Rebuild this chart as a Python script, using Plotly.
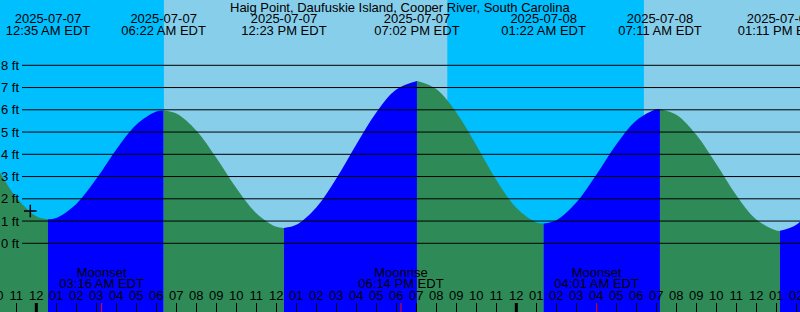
import plotly.graph_objects as go

# ---------------- data ----------------
TITLE = "Haig Point, Daufuskie Island, Cooper River, South Carolina"

# water level (hours after 2025-07-07 00:00 EDT, feet)
curve_hours = [-3, -2, -1, 0, 1, 2, 3, 4, 5, 6, 7, 8, 9, 10, 11, 12, 13, 14, 15, 16,
               17, 18, 19, 20, 21, 22, 23, 24, 25, 26, 27, 28, 29, 30, 31, 32, 33,
               34, 35, 36, 37, 38, 39]
curve_heights = [5.03, 3.46, 2.06, 1.22, 1.14, 1.77, 2.90, 4.22, 5.33, 5.92, 5.83, 5.07,
                 3.84, 2.48, 1.35, 0.74, 0.83, 1.61, 2.91, 4.44, 5.88, 6.91, 7.29, 6.93,
                 5.88, 4.41, 2.85, 1.60, 0.94, 1.04, 1.83, 3.08, 4.44, 5.52, 6.02, 5.78,
                 4.88, 3.56, 2.16, 1.07, 0.57, 0.83, 1.81]

# high / low tides
ext_hours = [0.583, 6.367, 12.383, 19.033, 25.367, 31.183, 37.183]
ext_heights = [1.08, 5.97, 0.69, 7.29, 0.89, 6.03, 0.56]
ext_dates = ["2025-07-07", "2025-07-07", "2025-07-07", "2025-07-07",
             "2025-07-08", "2025-07-08", "2025-07-08"]
ext_times = ["12:35 AM EDT", "06:22 AM EDT", "12:23 PM EDT", "07:02 PM EDT",
             "01:22 AM EDT", "07:11 AM EDT", "01:11 PM EDT"]

# daylight periods
day_start = [6.38, 30.38]
day_end = [20.55, 39.0]

# moon events
moon_hours = [3.267, 18.233, 28.017]
moon_names = ["Moonset", "Moonrise", "Moonset"]
moon_times = ["03:16 AM EDT", "06:14 PM EDT", "04:01 AM EDT"]

# hour ticks
hour_ticks = list(range(-2, 39))
hour_labels = ["10", "11", "12", "01", "02", "03", "04", "05", "06", "07", "08", "09",
               "10", "11", "12", "01", "02", "03", "04", "05", "06", "07", "08", "09",
               "10", "11", "12", "01", "02", "03", "04", "05", "06", "07", "08", "09",
               "10", "11", "12", "01", "02"]
midnights = [0, 24]

# height axis
ft_ticks = [0, 1, 2, 3, 4, 5, 6, 7, 8]
ft_labels = ["0 ft", "1 ft", "2 ft", "3 ft", "4 ft", "5 ft", "6 ft", "7 ft", "8 ft"]

# current position marker
now_hour = -0.30
now_height = 1.45

# ---------------- style ----------------
FONT = "Liberation Sans"
FS = 13
NIGHT = "#00BFFF"
DAY = "#87CEEB"
RISING = "#0000FF"
FALLING = "#2E8B57"
X_RANGE = [-1.815, 38.185]
Y_RANGE = [-3.088, 10.935]
BOTTOM = -5.0

# label rows (in feet units of the height axis)
Y_DATE = 10.036
Y_TIME = 9.52
Y_MOON_NAME = -1.37
Y_MOON_TIME = -1.88
Y_HOUR = -2.41

fig = go.Figure()

# tide fill segments between extremes
bounds = [curve_hours[0]] + ext_hours + [curve_hours[-1]]
bvals = [curve_heights[0]] + ext_heights + [curve_heights[-1]]
for i in range(len(bounds) - 1):
    a, b = bounds[i], bounds[i + 1]
    xs = [a]
    ys = [bvals[i]]
    for h, v in zip(curve_hours, curve_heights):
        if a + 0.1 < h < b - 0.1:
            xs.append(h)
            ys.append(v)
    xs.append(b)
    ys.append(bvals[i + 1])
    color = RISING if bvals[i + 1] > bvals[i] else FALLING
    fig.add_trace(go.Scatter(x=[a, b], y=[BOTTOM, BOTTOM], mode="lines",
                             line=dict(width=0), hoverinfo="skip", showlegend=False))
    fig.add_trace(go.Scatter(x=xs, y=ys, mode="lines", fill="tonexty",
                             fillcolor=color, line=dict(width=0, shape="spline", smoothing=1),
                             hoverinfo="skip", showlegend=False))

# now marker
fig.add_trace(go.Scatter(x=[now_hour], y=[now_height], mode="markers",
                         marker=dict(symbol="cross-thin", size=9,
                                     line=dict(width=1.5, color="black")),
                         showlegend=False, hoverinfo="skip"))

# extreme labels
fig.add_trace(go.Scatter(x=ext_hours, y=[Y_DATE] * len(ext_hours), mode="text",
                         text=ext_dates, textposition="middle center",
                         textfont=dict(family=FONT, size=FS, color="black"),
                         showlegend=False, hoverinfo="skip"))
fig.add_trace(go.Scatter(x=ext_hours, y=[Y_TIME] * len(ext_hours), mode="text",
                         text=ext_times, textposition="middle center",
                         textfont=dict(family=FONT, size=FS, color="black"),
                         showlegend=False, hoverinfo="skip"))

# moon labels
fig.add_trace(go.Scatter(x=moon_hours, y=[Y_MOON_NAME] * len(moon_hours), mode="text",
                         text=moon_names, textposition="middle center",
                         textfont=dict(family=FONT, size=FS, color="black"),
                         showlegend=False, hoverinfo="skip"))
fig.add_trace(go.Scatter(x=moon_hours, y=[Y_MOON_TIME] * len(moon_hours), mode="text",
                         text=moon_times, textposition="middle center",
                         textfont=dict(family=FONT, size=FS, color="black"),
                         showlegend=False, hoverinfo="skip"))

# hour labels
fig.add_trace(go.Scatter(x=hour_ticks, y=[Y_HOUR] * len(hour_ticks), mode="text",
                         text=hour_labels, textposition="middle center",
                         textfont=dict(family=FONT, size=FS, color="black"),
                         showlegend=False, hoverinfo="skip"))

shapes = []
for s, e in zip(day_start, day_end):
    shapes.append(dict(type="rect", xref="x", yref="paper", x0=s, x1=e, y0=0, y1=1,
                       fillcolor=DAY, line=dict(width=0), layer="below"))
for v in ft_ticks:
    shapes.append(dict(type="line", xref="paper", yref="y", x0=22 / 800, x1=1,
                       y0=v, y1=v, line=dict(color="black", width=1), layer="above"))
for m in midnights:
    shapes.append(dict(type="line", xref="x", yref="paper", x0=m, x1=m, y0=0, y1=9 / 312,
                       line=dict(color="black", width=3), layer="above"))
for m in moon_hours:
    shapes.append(dict(type="line", xref="x", yref="paper", x0=m, x1=m, y0=0, y1=9 / 312,
                       line=dict(color="red", width=1), layer="above"))

annotations = [dict(text=TITLE, xref="paper", yref="paper", x=0.5, y=1 - 7.5 / 312,
                    xanchor="center", yanchor="middle", showarrow=False,
                    font=dict(family=FONT, size=FS, color="black"))]
for v, lab in zip(ft_ticks, ft_labels):
    annotations.append(dict(text=lab, xref="paper", yref="y", x=20.5 / 800, y=v,
                            xanchor="right", yanchor="middle", showarrow=False,
                            font=dict(family=FONT, size=FS, color="black")))

fig.update_layout(
    width=800, height=312,
    margin=dict(l=0, r=0, t=0, b=0, pad=0),
    paper_bgcolor=NIGHT, plot_bgcolor=NIGHT,
    showlegend=False,
    shapes=shapes, annotations=annotations,
    xaxis=dict(range=X_RANGE, showgrid=False, zeroline=False, showline=False,
               tickmode="array", tickvals=hour_ticks, ticks="inside", ticklen=9,
               tickwidth=1, tickcolor="black", showticklabels=False, fixedrange=True),
    yaxis=dict(range=Y_RANGE, showgrid=False, zeroline=False, showline=False,
               showticklabels=False, ticks="", fixedrange=True),
)

fig.write_html("out.html", config={"displayModeBar": False})
